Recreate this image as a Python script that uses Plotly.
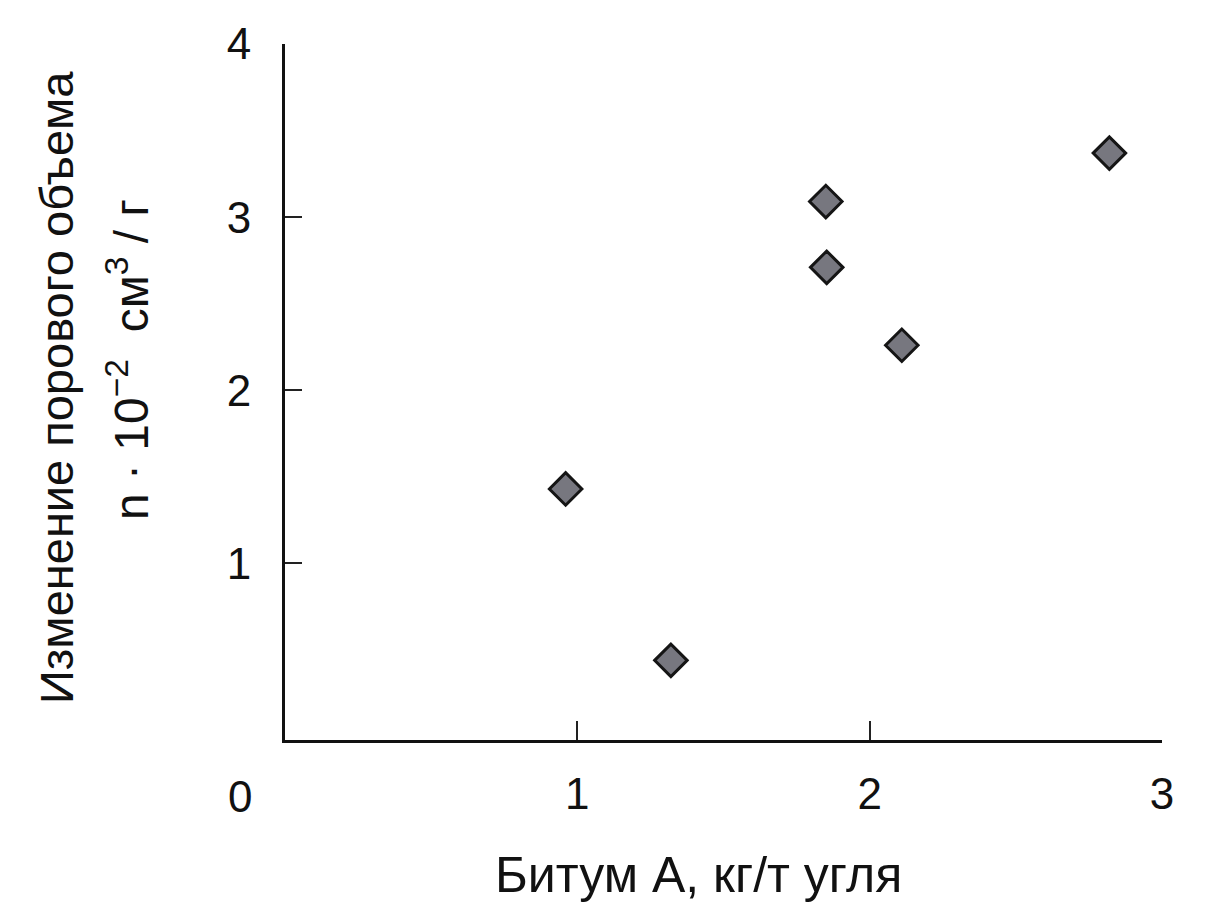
import plotly.graph_objects as go

bitumen = [0.96, 1.32, 1.85, 1.853, 2.11, 2.82]
pore_change = [1.43, 0.44, 3.09, 2.71, 2.26, 3.37]
x_ticks = [1, 2, 3]
y_ticks = [1, 2, 3, 4]

FONT = "Liberation Sans"
OFF = 8  # page body margin
W, H = 1206 - OFF, 923 - OFF
L, R, T, B = 285 - OFF, 44, 44 - OFF, 183
pw, ph = W - L - R, H - T - B


def px_to_paper(px, py):
    return (px - OFF - L) / pw, (H - B - (py - OFF)) / ph


fig = go.Figure()
fig.add_trace(go.Scatter(
    x=bitumen, y=pore_change, mode="markers",
    marker=dict(symbol="diamond", size=25, color="#77777f",
                line=dict(color="#151515", width=3)),
    showlegend=False, hoverinfo="x+y",
))

fig.update_layout(
    width=W, height=H,
    margin=dict(l=L, r=R, t=T, b=B),
    paper_bgcolor="white", plot_bgcolor="white",
    font=dict(family=FONT, color="#111111", size=44),
    xaxis=dict(range=[0, 3], tickvals=x_ticks, ticks="inside", ticklen=19, tickwidth=1.5,
               tickcolor="#222", showline=True, linecolor="#111", linewidth=3,
               showgrid=False, zeroline=False, ticklabelstandoff=13,
               tickfont=dict(size=44, family=FONT)),
    yaxis=dict(range=[-0.02, 4], tickvals=y_ticks, ticks="inside", ticklen=17, tickwidth=1.5,
               tickcolor="#222", showline=True, linecolor="#111", linewidth=3,
               showgrid=False, zeroline=False, ticklabelstandoff=22,
               tickfont=dict(size=44, family=FONT)),
)

# origin label
fig.add_annotation(x=0, y=-0.02, xref="x", yref="y", text="0", showarrow=False,
                   xshift=-45, yshift=-56, font=dict(size=44, family=FONT))

ax, ay = px_to_paper(698, 875)
fig.add_annotation(x=ax, y=ay, xref="paper", yref="paper", text="Битум А, кг/т угля",
                   showarrow=False, font=dict(size=50, family=FONT),
                   xanchor="center", yanchor="middle")

ax, ay = px_to_paper(57, 388)
fig.add_annotation(x=ax, y=ay, xref="paper", yref="paper", text="Изменение порового объема",
                   showarrow=False, textangle=-90, font=dict(size=47, family=FONT),
                   xanchor="center", yanchor="middle")
ax, ay = px_to_paper(128, 360)
fig.add_annotation(x=ax, y=ay, xref="paper", yref="paper",
                   text="n · 10<sup>−2</sup>  см<sup>3</sup> / г",
                   showarrow=False, textangle=-90, font=dict(size=48, family=FONT),
                   xanchor="center", yanchor="middle")

fig.write_html("out.html")
